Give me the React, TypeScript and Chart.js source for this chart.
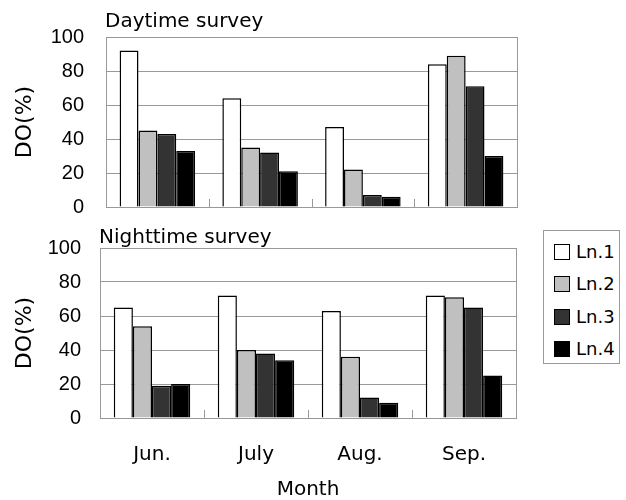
import React, { useEffect, useRef } from "react";
import { Chart, registerables } from "chart.js";

Chart.register(...registerables);

const months = ["Jun.", "July", "Aug.", "Sep."];
const seriesNames = ["Ln.1", "Ln.2", "Ln.3", "Ln.4"];
const seriesColors = ["#ffffff", "#c0c0c0", "#333333", "#000000"];

const dayLn1 = [92, 64, 47, 84];
const dayLn2 = [45, 35, 22, 89];
const dayLn3 = [43, 32, 7, 71];
const dayLn4 = [33, 21, 6, 30];

const nightLn1 = [65, 72, 63, 72];
const nightLn2 = [54, 40, 36, 71];
const nightLn3 = [19, 38, 12, 65];
const nightLn4 = [20, 34, 9, 25];

const yMin = 0;
const yMax = 100;
const yStep = 20;

const dayTitle = "Daytime survey";
const nightTitle = "Nighttime survey";
const yTitle = "DO(%)";
const xTitle = "Month";

const GRID = "#999999";
const TITLE_FONT = "'DejaVu Sans', sans-serif";
const TICK_FONT = "'Liberation Sans', Arial, sans-serif";

const framePlugin = {
  id: "frame",
  beforeDatasetsDraw(chart: any) {
    const { ctx, chartArea } = chart;
    const xs = chart.scales.x;
    ctx.save();
    ctx.strokeStyle = GRID;
    ctx.lineWidth = 1;
    // inward tick marks at category boundaries
    for (let i = 0; i < months.length - 1; i++) {
      const px = Math.round((xs.getPixelForValue(i) + xs.getPixelForValue(i + 1)) / 2) + 0.5;
      ctx.beginPath();
      ctx.moveTo(px, chartArea.bottom);
      ctx.lineTo(px, chartArea.bottom - 8);
      ctx.stroke();
    }
    ctx.strokeRect(
      Math.round(chartArea.left) + 0.5,
      Math.round(chartArea.top) + 0.5,
      Math.round(chartArea.right - chartArea.left),
      Math.round(chartArea.bottom - chartArea.top)
    );
    ctx.restore();
  },
};

const panelTitlePlugin = {
  id: "panelTitle",
  afterDraw(chart: any, _args: any, opts: any) {
    const { ctx } = chart;
    ctx.save();
    ctx.fillStyle = "#000";
    ctx.font = `20px ${TITLE_FONT}`;
    ctx.textAlign = "left";
    ctx.textBaseline = "alphabetic";
    ctx.fillText(opts.text, opts.x, opts.y);
    ctx.restore();
  },
};

function makeConfig(
  values: number[][],
  opts: {
    title: string;
    titleX: number;
    titleY: number;
    padTop: number;
    padRight: number;
    yWidth: number;
    xHeight: number;
    showX: boolean;
    tickPad: number;
  }
): any {
  return {
    type: "bar",
    data: {
      labels: months,
      datasets: values.map((v, i) => ({
        label: seriesNames[i],
        data: v,
        backgroundColor: seriesColors[i],
        borderColor: "#000000",
        borderWidth: 1.5,
        categoryPercentage: 0.735,
        barPercentage: 1.0,
      })),
    },
    options: {
      responsive: false,
      animation: false,
      devicePixelRatio: 1,
      layout: { padding: { top: opts.padTop, right: opts.padRight, left: 0, bottom: 0 } },
      plugins: {
        legend: { display: false },
        tooltip: { enabled: false },
        title: { display: false },
        panelTitle: { text: opts.title, x: opts.titleX, y: opts.titleY },
      },
      scales: {
        x: {
          grid: { display: false, drawTicks: false },
          border: { display: false },
          ticks: {
            display: opts.showX,
            color: "#000",
            font: { family: TITLE_FONT, size: 20 },
            padding: 25,
            maxRotation: 0,
          },
          title: {
            display: opts.showX,
            text: xTitle,
            color: "#000",
            font: { family: TITLE_FONT, size: 20, lineHeight: 1 },
            padding: { top: 0, bottom: 0 },
          },
          afterFit(scale: any) {
            scale.height = opts.xHeight;
            scale.paddingLeft = 0;
            scale.paddingRight = 0;
          },
        },
        y: {
          min: yMin,
          max: yMax,
          grid: { color: GRID, lineWidth: 1, drawTicks: false },
          border: { display: false },
          ticks: {
            stepSize: yStep,
            color: "#000",
            font: { family: TICK_FONT, size: 20 },
            padding: opts.tickPad,
          },
          title: {
            display: true,
            text: yTitle,
            color: "#000",
            font: { family: TITLE_FONT, size: 22, lineHeight: 1 },
            padding: { top: 14, bottom: 0 },
          },
          afterFit(scale: any) {
            scale.width = opts.yWidth;
            scale.paddingTop = 0;
            scale.paddingBottom = 0;
          },
        },
      },
    },
    plugins: [framePlugin, panelTitlePlugin],
  };
}

function Panel(props: { values: number[][]; height: number; top: number; cfg: any }) {
  const ref = useRef<HTMLCanvasElement | null>(null);
  useEffect(() => {
    if (!ref.current) return;
    const chart = new Chart(ref.current, makeConfig(props.values, props.cfg));
    return () => chart.destroy();
  }, []);
  return (
    <div style={{ position: "absolute", left: 0, top: props.top, width: 626, height: props.height }}>
      <canvas ref={ref} width={626} height={props.height} style={{ width: 626, height: props.height, display: "block" }} />
    </div>
  );
}

export default function App() {
  return (
    <div style={{ position: "absolute", left: 0, top: 0, width: 626, height: 500, background: "#fff", overflow: "hidden" }}>
      <Panel
        values={[dayLn1, dayLn2, dayLn3, dayLn4]}
        height={220}
        top={0}
        cfg={{ title: dayTitle, titleX: 105, titleY: 27, padTop: 37, padRight: 109, yWidth: 106, xHeight: 13, showX: false, tickPad: 22 }}
      />
      <Panel
        values={[nightLn1, nightLn2, nightLn3, nightLn4]}
        height={280}
        top={220}
        cfg={{ title: nightTitle, titleX: 99, titleY: 23, padTop: 28, padRight: 110, yWidth: 100, xHeight: 82, showX: true, tickPad: 19 }}
      />
      <div
        style={{
          position: "absolute",
          left: 543,
          top: 230,
          width: 75,
          height: 132,
          border: "1px solid #999",
          background: "#fff",
          fontFamily: TITLE_FONT,
          fontSize: 18,
          color: "#000",
        }}
      >
        {seriesNames.map((n, i) => (
          <div key={n} style={{ position: "absolute", left: 10, top: 10 + i * 32.3, height: 22, display: "flex", alignItems: "center" }}>
            <span
              style={{
                display: "inline-block",
                width: 14,
                height: 14,
                border: "1px solid #000",
                background: seriesColors[i],
                marginRight: 6,
              }}
            />
            <span style={{ lineHeight: "22px" }}>{n}</span>
          </div>
        ))}
      </div>
    </div>
  );
}
